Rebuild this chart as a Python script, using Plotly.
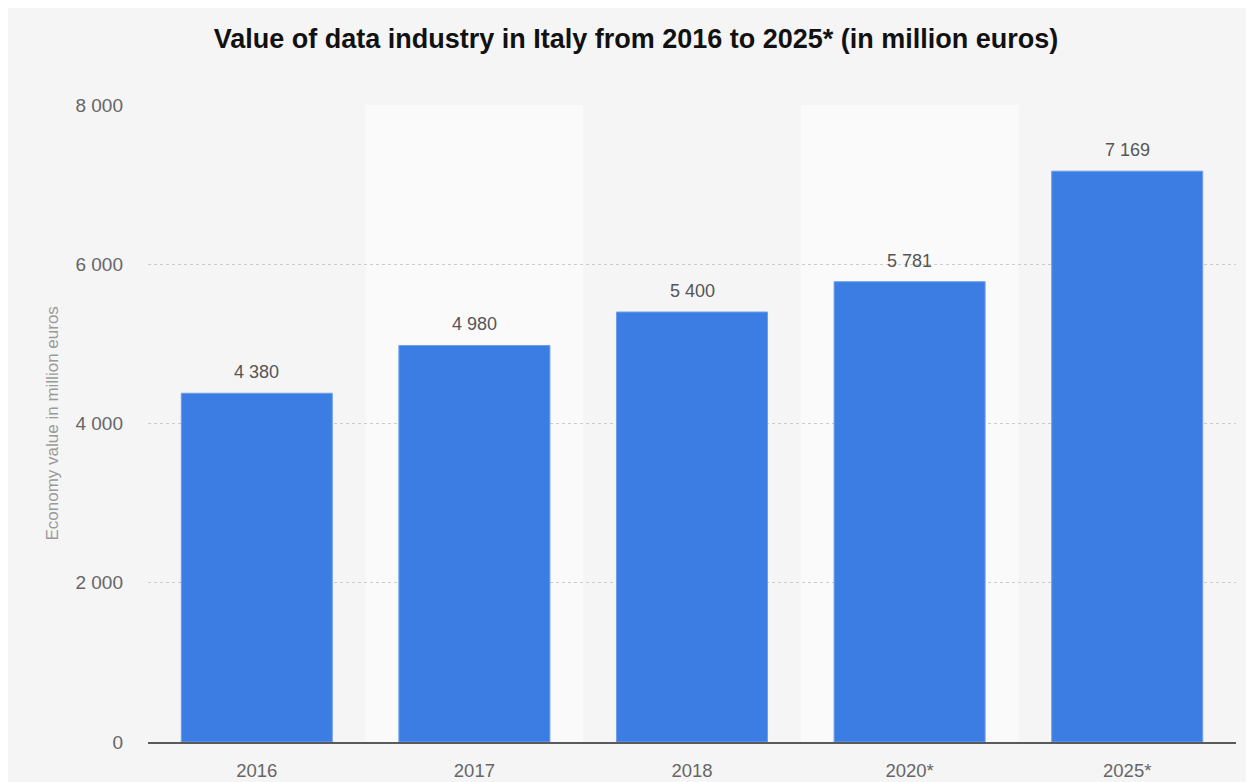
import plotly.graph_objects as go

categories = ["2016", "2017", "2018", "2020*", "2025*"]
values = [4380, 4980, 5400, 5781, 7169]
value_labels = ["4 380", "4 980", "5 400", "5 781", "7 169"]
y_ticks = [0, 2000, 4000, 6000, 8000]
y_tick_labels = ["0", "2 000", "4 000", "6 000", "8 000"]

title_text = "Value of data industry in Italy from 2016 to 2025* (in million euros)"
y_title = "Economy value in million euros"

# page has an 8px body margin, so figure is slightly smaller than the window
W, H = 1246, 774
ML, MR, MT, MB = 140, 18, 97, 40
PW, PH = W - ML - MR, H - MT - MB

FONT = "Liberation Sans, Arial, sans-serif"
BAR = "#3c7de3"
BG = "#f5f5f5"
BAND = "#fafafa"

fig = go.Figure()
fig.add_trace(go.Bar(
    x=categories, y=values,
    marker=dict(color=BAR, line=dict(color="#6f9fea", width=1)),
    hoverinfo="skip",
))

annotations = []
for i, (v, lab) in enumerate(zip(values, value_labels)):
    annotations.append(dict(
        x=i, y=v, xref="x", yref="y", text=lab, showarrow=False,
        yanchor="bottom", yshift=9,
        font=dict(family=FONT, size=18, color="#555555"),
    ))

# y axis title
annotations.append(dict(
    x=(44 - ML) / PW, y=0.5, xref="paper", yref="paper",
    text=y_title, showarrow=False, textangle=-90,
    xanchor="center", yanchor="middle",
    font=dict(family=FONT, size=17, color="#9a9a9a"),
))

shapes = []
# alternating bands
for i in range(len(categories)):
    if i % 2 == 1:
        shapes.append(dict(
            type="rect", xref="x", yref="paper",
            x0=i - 0.5, x1=i + 0.5, y0=0, y1=1,
            fillcolor=BAND, line=dict(width=0), layer="below",
        ))

fig.update_layout(
    width=W, height=H,
    margin=dict(l=ML, r=MR, t=MT, b=MB, pad=0, autoexpand=False),
    paper_bgcolor=BG, plot_bgcolor=BG,
    showlegend=False,
    bargap=0.306,
    title=dict(
        text="<b>" + title_text + "</b>",
        x=628 / W, xanchor="center",
        y=1 - 31 / H, yanchor="middle",
        font=dict(family=FONT, size=27, color="#111111"),
    ),
    xaxis=dict(
        type="category", automargin=False,
        range=[-0.5, len(categories) - 0.5],
        showgrid=False, zeroline=False,
        showline=True, linecolor="#5a5a5a", linewidth=2,
        ticks="", ticklabelstandoff=11,
        tickfont=dict(family=FONT, size=18.5, color="#666666"),
    ),
    yaxis=dict(
        automargin=False,
        range=[0, 8000],
        tickvals=y_ticks, ticktext=y_tick_labels,
        showgrid=True, gridcolor="#cccccc", gridwidth=1, griddash="dot",
        zeroline=False, showline=False, ticks="",
        ticklabelstandoff=24,
        tickfont=dict(family=FONT, size=19, color="#666666"),
    ),
    annotations=annotations,
    shapes=shapes,
)

fig.write_html("out.html")
